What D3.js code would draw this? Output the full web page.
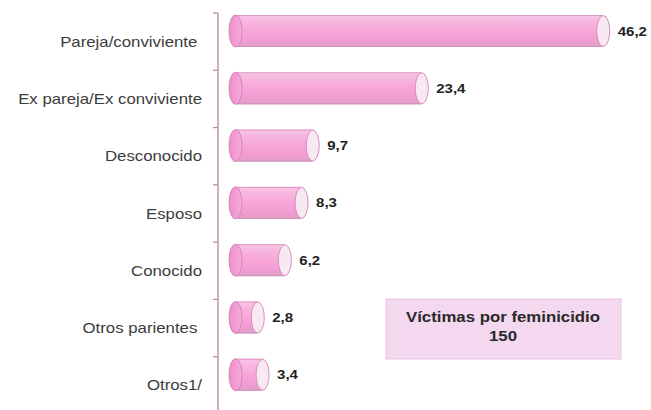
<!DOCTYPE html>
<html>
<head>
<meta charset="utf-8">
<script src="https://cdn.jsdelivr.net/npm/d3@7"></script>
<style>
  html, body { margin: 0; padding: 0; background: #fff; }
  svg { display: block; }
  text { font-family: "Liberation Sans", Arial, sans-serif; white-space: pre; }
</style>
</head>
<body>
<svg id="chart" width="651" height="410"></svg>
<script>
// ---- data ----
const categories = [
  "Pareja/conviviente ",
  "Ex pareja/Ex conviviente",
  "Desconocido",
  "Esposo",
  "Conocido",
  "Otros parientes ",
  "Otros1/"
];
const values = [46.2, 23.4, 9.7, 8.3, 6.2, 2.8, 3.4];
const boxTitle = "Víctimas por feminicidio";
const boxValue = "150";

// ---- setup ----
const svg = d3.select("#chart");
const W = 651, H = 410;
const SX = 1.2; // horizontal stretch of the original image

const x = d3.scaleLinear().domain([0, 50]).range([235.5, 235.5 + 50 * 7.96]);
const y = d3.scaleBand().domain(categories).range([13, 414]).paddingInner(0).paddingOuter(0);

const fmt = d3.formatLocale({decimal: ",", thousands: ".", grouping: [3], currency: ["", ""]}).format(".1f");

const defs = svg.append("defs");
const g1 = defs.append("linearGradient").attr("id", "body").attr("x1", 0).attr("y1", 0).attr("x2", 0).attr("y2", 1);
[["0%", "#f8c6e6"], ["25%", "#f7b3de"], ["60%", "#f6a2d6"], ["85%", "#f09bcf"], ["100%", "#dca0c6"]]
  .forEach(([o, c]) => g1.append("stop").attr("offset", o).attr("stop-color", c));
const g2 = defs.append("linearGradient").attr("id", "lcap").attr("x1", 0).attr("y1", 0).attr("x2", 1).attr("y2", 0);
[["0%", "#ee8dca"], ["100%", "#f6acdb"]]
  .forEach(([o, c]) => g2.append("stop").attr("offset", o).attr("stop-color", c));

// ---- axis ----
const axisX = 218;
svg.append("line").attr("x1", axisX).attr("x2", axisX).attr("y1", 13).attr("y2", H)
  .attr("stroke", "#b784a8").attr("stroke-width", 1.3);
const ticks = categories.map(c => y(c));
svg.selectAll(".tick").data(ticks).join("line")
  .attr("x1", axisX - 5).attr("x2", axisX).attr("y1", d => d).attr("y2", d => d)
  .attr("stroke", "#b784a8").attr("stroke-width", 1.2);

// ---- category labels ----
svg.selectAll(".cat").data(categories).join("text")
  .attr("class", "cat")
  .attr("transform", d => `translate(202,${y(d) + y.bandwidth() / 2 + 5}) scale(${SX},1)`)
  .attr("text-anchor", "end")
  .attr("font-size", 14)
  .attr("fill", "#3c3c3c")
  .text(d => d);

// ---- bars ----
const barH = 32, rx = 6.5, ry = barH / 2;
const bars = svg.selectAll(".bar").data(categories.map((c, i) => ({c, v: values[i]}))).join("g")
  .attr("class", "bar")
  .attr("transform", d => `translate(0,${y(d.c) + 2})`);

bars.append("rect")
  .attr("x", x(0)).attr("y", 0)
  .attr("width", d => x(d.v) - x(0)).attr("height", barH)
  .attr("fill", "url(#body)");
bars.append("line")
  .attr("x1", x(0)).attr("x2", d => x(d.v)).attr("y1", 0.5).attr("y2", 0.5)
  .attr("stroke", "#de98c6").attr("stroke-width", 1);
bars.append("line")
  .attr("x1", x(0)).attr("x2", d => x(d.v)).attr("y1", barH - 0.5).attr("y2", barH - 0.5)
  .attr("stroke", "#cf92b8").attr("stroke-width", 1);
bars.append("ellipse")
  .attr("cx", x(0)).attr("cy", ry).attr("rx", rx).attr("ry", ry)
  .attr("fill", "url(#lcap)").attr("stroke", "#d685b8").attr("stroke-width", 1);
bars.append("ellipse")
  .attr("cx", d => x(d.v)).attr("cy", ry).attr("rx", rx).attr("ry", ry - 0.5)
  .attr("fill", "#f8e8f1").attr("stroke", "#d690bd").attr("stroke-width", 1);

// ---- value labels ----
bars.append("text")
  .attr("transform", d => `translate(${x(d.v) + rx + 8},${ry + 4.5}) scale(${SX},1)`)
  .attr("font-size", 12.5).attr("font-weight", "bold").attr("fill", "#222")
  .text(d => fmt(d.v));

// ---- info box ----
svg.append("rect").attr("x", 386).attr("y", 299).attr("width", 235).attr("height", 60)
  .attr("fill", "#f4d8f0").attr("stroke", "#e8c2e2").attr("stroke-width", 1);
svg.append("text")
  .attr("transform", `translate(503,322) scale(${SX},1)`)
  .attr("text-anchor", "middle").attr("font-size", 14).attr("font-weight", "bold").attr("fill", "#2a2a2a")
  .text(boxTitle);
svg.append("text")
  .attr("transform", `translate(503,341) scale(${SX},1)`)
  .attr("text-anchor", "middle").attr("font-size", 14).attr("font-weight", "bold").attr("fill", "#2a2a2a")
  .text(boxValue);
</script>
</body>
</html>
